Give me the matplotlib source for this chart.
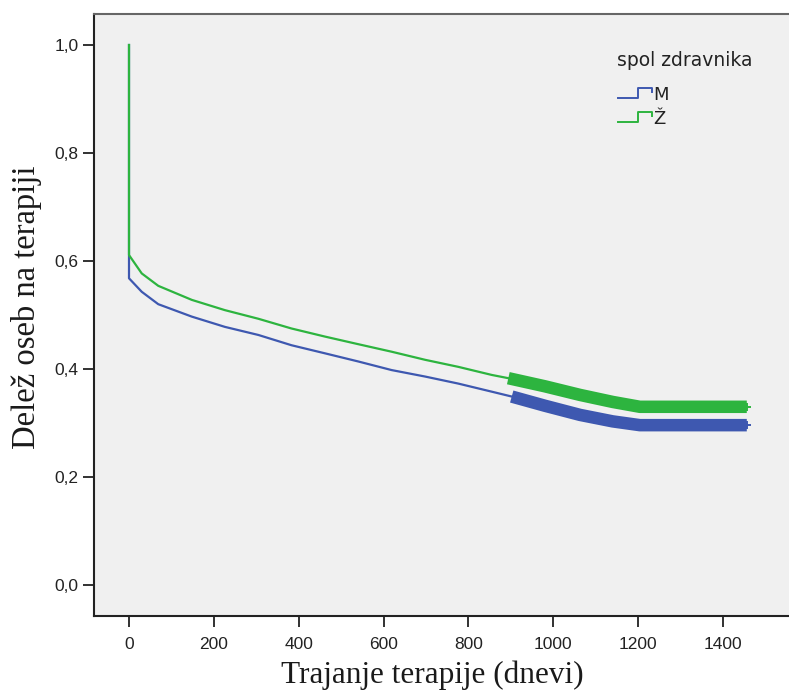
"""
plot.py -- Kaplan-Meier style curves: share of patients on therapy by physician sex.
"""
import numpy as np
import matplotlib
matplotlib.use("Agg")
import matplotlib.pyplot as plt
from matplotlib.ticker import FuncFormatter

# survival curve knots (days, share on therapy)
t_m = [0, 0, 30, 69, 148, 226, 305, 383, 462, 540, 619, 698, 776, 855, 902,
       980, 1063, 1140, 1204, 1456]
s_m = [1.0, 0.568, 0.543, 0.520, 0.497, 0.478, 0.463, 0.444, 0.429, 0.414,
       0.398, 0.386, 0.373, 0.358, 0.349, 0.332, 0.315, 0.303, 0.296, 0.296]
t_z = [0, 0, 30, 69, 148, 226, 305, 383, 462, 540, 619, 698, 776, 855, 894,
       980, 1063, 1140, 1204, 1456]
s_z = [1.0, 0.611, 0.577, 0.554, 0.528, 0.509, 0.493, 0.475, 0.460, 0.446,
       0.432, 0.417, 0.404, 0.389, 0.383, 0.368, 0.352, 0.339, 0.330, 0.330]
censor_start = {"M": 902, "Ž": 894}   # dense censoring marks from here on

groups = ["M", "Ž"]
colors = {"M": "#3e58b0", "Ž": "#2db43f"}
curves = {"M": (t_m, s_m), "Ž": (t_z, s_z)}

x_ticks = [0, 200, 400, 600, 800, 1000, 1200, 1400]
y_ticks = [0.0, 0.2, 0.4, 0.6, 0.8, 1.0]

BG = "#f0f0f0"
plt.rcParams["font.family"] = ["Liberation Sans", "DejaVu Sans"]

fig = plt.figure(figsize=(7.89, 6.95), dpi=100)
ax = fig.add_axes([94 / 789, 79 / 695, 695 / 789, 602 / 695])
ax.set_facecolor(BG)

for g in groups:
    t, s = np.array(curves[g][0]), np.array(curves[g][1])
    ax.plot(t, s, color=colors[g], lw=1.6, solid_joinstyle="round", zorder=3)
    # censored stretch: the '+' marks merge into a thick band
    m = t >= censor_start[g]
    ax.plot(t[m], s[m], color=colors[g], lw=9, solid_capstyle="butt",
            solid_joinstyle="round", zorder=3)
    ax.plot(t[-1:], s[-1:], "+", color=colors[g], ms=6, mew=1.4, zorder=3)

ax.set_xlim(-82.5, 1555.5)
ax.set_ylim(-0.0574, 1.0574)
ax.set_xticks(x_ticks)
ax.set_yticks(y_ticks)
ax.yaxis.set_major_formatter(FuncFormatter(lambda v, p: f"{v:.1f}".replace(".", ",")))
ax.tick_params(direction="out", length=8, width=1.3, color="#222222",
               labelsize=12.5, labelcolor="#222222", pad=3)
ax.tick_params(axis="x", pad=7)

for side in ["left", "bottom"]:
    ax.spines[side].set_color("#222222")
    ax.spines[side].set_linewidth(1.5)
ax.spines["top"].set_color("#666666")
ax.spines["top"].set_linewidth(1.5)
ax.spines["right"].set_visible(False)

serif = ["Liberation Serif", "DejaVu Serif"]
fig.text(27 / 789, 1 - 307 / 695, "Delež oseb na terapiji", rotation=90,
         ha="center", va="center", fontsize=23.5, family=serif, color="#1a1a1a")
fig.text(432 / 789, 1 - 675 / 695, "Trajanje terapije (dnevi)",
         ha="center", va="center", fontsize=22.5, family=serif, color="#1a1a1a")

# legend drawn by hand: step-shaped handles as in the original
legend_font = ["DejaVu Sans"]
fig.text(617 / 789, 1 - 61 / 695, "spol zdravnika", ha="left", va="center",
         fontsize=13.5, family=legend_font, color="#222222")
for i, g in enumerate(groups):
    yl = 98 + i * 24          # lower level of the step handle
    hx = np.array([618, 638, 638, 652, 652]) / 789
    hy = 1 - np.array([yl, yl, yl - 10, yl - 10, yl - 6]) / 695
    fig.add_artist(plt.Line2D(hx, hy, color=colors[g], lw=1.4))
    fig.text(653 / 789, 1 - (yl - 3) / 695, g, ha="left", va="center",
             fontsize=13, family=legend_font, color="#222222")

fig.savefig("out.png", dpi=100, facecolor="white")
